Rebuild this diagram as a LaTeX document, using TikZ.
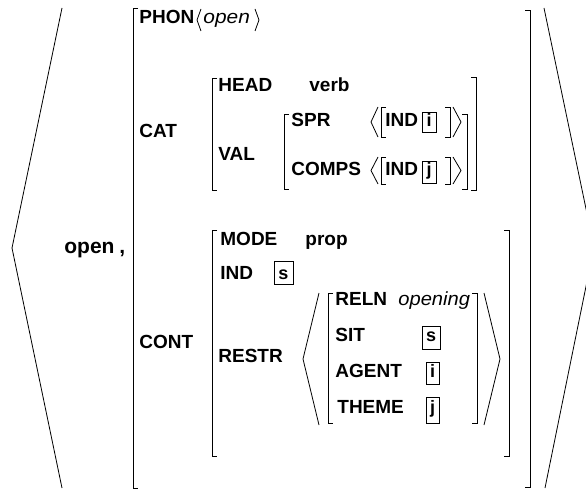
\documentclass[tikz,border=0pt]{standalone}
\usepackage{fontspec}
\setmainfont{Liberation Sans}
% left/right square brackets: x, top, bottom
\newcommand\sqL[3]{\draw (#1+5,#2) -- (#1,#2) -- (#1,#3) -- (#1+5,#3);}
\newcommand\sqR[3]{\draw (#1-5,#2) -- (#1,#2) -- (#1,#3) -- (#1-5,#3);}
% angle brackets: apex x, end x, top, bottom
\newcommand\angB[4]{\draw (#2,#3) -- (#1,{(#3+#4)/2}) -- (#2,#4);}
\begin{document}
\begin{tikzpicture}[x=1pt,y=-1pt,line width=0.8pt,
  feat/.style={font=\bfseries\fontsize{19}{21}\selectfont,anchor=base west,inner sep=0pt},
  atom/.style={font=\itshape\fontsize{19}{21}\selectfont,anchor=base west,inner sep=0pt},
  tag/.style={font=\bfseries\fontsize{18}{20}\selectfont,anchor=base,inner sep=0pt}]
\clip (0,0) rectangle (586,489);

% outer list of word and its description
\angB{12}{62}{8}{488}
\draw (544,8) -- (594,247) -- (545,488);
\node[feat,font=\bfseries\fontsize{21}{23}\selectfont] (word) at (64,253) {open};
\node[feat,font=\bfseries\fontsize{21}{23}\selectfont] (comma) at (119,253) {,};
\sqL{133}{8}{488}
\sqR{530}{10}{487}

% PHON
\node[feat] (phon) at (139,24) {PHON};
\angB{197}{201}{9}{31}
\node[atom] (phonval) at (203,24) {\scalebox{1.1}[1]{open}};
\angB{259}{255}{9}{31}

% CAT
\node[feat] (cat) at (139,138) {CAT};
\sqL{212}{78}{190}
\sqR{476}{77}{190}
\node[feat] (head) at (218,92) {HEAD};
\node[feat] (verb) at (309,92) {verb};
\node[feat] (val) at (218,161) {VAL};
\sqL{284}{114}{189}
\sqR{467}{114}{189}
\node[feat] (spr) at (291,127) {SPR};
\node[feat] (comps) at (291,176) {COMPS};
% SPR value
\angB{371}{378}{107}{137}
\sqL{381}{107}{137}
\node[feat] (sprind) at (385,127) {IND};
\draw (422,112) rectangle (436,132);
\node[tag] (tagi1) at (429,127) {i};
\sqR{450}{107}{137}
\angB{461}{453}{107}{137}
% COMPS value
\angB{371}{378}{157}{184}
\sqL{381}{157}{184}
\node[feat] (compsind) at (385,176) {IND};
\draw (422,161) rectangle (436,183);
\node[tag] (tagj1) at (429,176) {j};
\sqR{450}{157}{184}
\angB{461}{453}{157}{184}

% CONT
\node[feat] (cont) at (139,348) {CONT};
\sqL{212}{230}{456}
\sqR{509}{230}{456}
\node[feat] (mode) at (220,245) {MODE};
\node[feat] (prop) at (305,245) {prop};
\node[feat] (ind) at (220,279) {IND};
\draw (274,261) rectangle (293,284);
\node[tag] (tags1) at (283.5,279) {s};
\node[feat] (restr) at (218,362) {RESTR};
% RESTR list
\angB{303}{319}{293}{425}
\sqL{328}{293}{423}
\sqR{477}{293}{423}
\angB{500}{484}{293}{425}
\node[feat] (reln) at (335,305) {RELN};
\node[atom] (opening) at (398,305) {\scalebox{1.06}[1]{opening}};
\node[feat] (sit) at (335,341) {SIT};
\draw (422,326) rectangle (440,349);
\node[tag] (tags2) at (431,341) {s};
\node[feat] (agent) at (335,377) {AGENT};
\draw (426,362) rectangle (439,384);
\node[tag] (tagi2) at (432.5,377) {i};
\node[feat] (theme) at (337,413) {THEME};
\draw (426,397) rectangle (439,423);
\node[tag] (tagj2) at (432.5,413) {j};
\end{tikzpicture}
\end{document}
